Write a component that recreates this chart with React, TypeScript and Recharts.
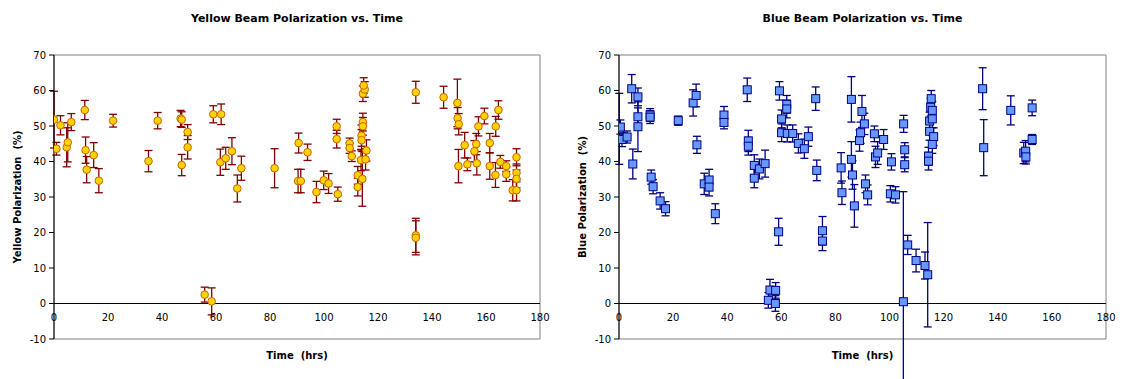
import { ScatterChart, Scatter, XAxis, YAxis, ErrorBar, ReferenceLine, ReferenceArea, Label } from 'recharts';

const FONT = '"DejaVu Sans", Verdana, sans-serif';

// yellow beam: time (hrs), polarization (%), error (+/-)
const yellowTime = [
    0, 0.9, 2.4, 4.7, 5.1, 6.4, 11.4, 11.7, 12.1, 14.7, 16.6, 21.9, 35.0, 38.4, 46.9, 47.3, 47.3, 49.5, 49.5,
    55.8, 58.4, 59.0, 61.9, 61.6, 63.6, 65.9, 67.9, 69.4, 81.7, 90.6, 90.4, 91.4, 93.9, 97.2, 99.9, 101.7,
    105.1, 104.7, 104.7, 109.5, 109.5, 110.3, 112.5, 112.5, 113.7, 113.9, 113.9, 114.4, 114.4, 114.2, 114.4,
    115.1, 114.7, 115.4, 115.7, 134.0, 134.0, 134.0, 144.3, 149.4, 149.5, 149.9, 149.8, 152.1, 153.1, 155.7,
    156.4, 156.6, 157.2, 159.4, 161.4, 161.4, 163.5, 163.6, 164.6, 165.3, 167.5, 167.5, 169.9, 171.3, 171.3,
    171.3, 171.3
];
const yellowPol = [
    51.8, 43.6, 50.2, 44.0, 45.4, 51.1, 54.5, 43.2, 37.7, 41.8, 34.6, 51.5, 40.1, 51.5, 52.1, 51.8, 39.0, 48.3, 44.0,
    2.5, 0.6, 53.3, 53.3, 39.8, 40.9, 42.9, 32.4, 38.1, 38.1, 45.2, 34.5, 34.5, 42.6, 31.4, 34.7, 33.8,
    30.8, 49.9, 46.3, 45.1, 43.8, 41.5, 36.1, 32.8, 40.4, 47.3, 46.0, 51.1, 49.9, 35.1, 59.1,
    60.3, 61.4, 40.6, 43.1, 59.5, 19.2, 18.5, 58.1, 56.5, 52.2, 50.5, 38.7, 44.6, 39.2, 42.9,
    44.9, 39.5, 49.9, 52.8, 45.2, 38.7, 36.2, 49.9, 54.5, 39.9, 38.7, 36.4, 31.9, 41.2, 36.8,
    35.1, 31.9
];
const yellowErr = [
    8, 1.8, 2.7, 5.5, 5.5, 2.4, 2.7, 3.7, 3.7, 3.5, 3.4, 1.8, 3, 2.3, 2.3, 2.2, 3, 2.1, 3.3,
    2.1, 3.8, 2.4, 2.9, 3.7, 3.1, 3.8, 3.8, 3.4, 5.5, 2.8, 3.3, 3.3, 2.3, 3, 2.6, 2.8,
    2, 2, 2.5, 1.5, 1.5, 1.5, 2.5, 2.5, 3, 3, 3, 2.5, 2.5, 7.7, 2.2,
    2.2, 2.2, 3, 3, 3.1, 4.8, 4.8, 3.1, 6.7, 3, 3, 4.7, 3.6, 1.8, 3,
    3, 3.3, 2.7, 2.2, 2.7, 3.7, 3.5, 2.8, 2.6, 1.8, 1.5, 2, 3, 2.4, 2.5,
    2.5, 3
];

// blue beam: time (hrs), polarization (%), error (+/-)
const blueTime = [
    0.1, 0.5, 1.1, 3.0, 4.7, 5.1, 7.0, 7.0, 7.0, 11.5, 11.5, 11.9, 12.6, 15.2, 17.2, 21.9, 27.4, 28.5, 28.8,
    31.5, 33.3, 33.3, 35.6, 38.8, 38.8, 47.4, 47.8, 47.8, 50.0, 50.0, 51.9, 54.0, 55.2, 55.8, 57.9, 57.8,
    59.0, 59.3, 60.1, 60.1, 62.0, 62.0, 62.2, 64.2, 66.3, 68.5, 70.0, 72.7, 73.1, 75.2, 75.2, 82.1, 82.4,
    85.9, 85.9, 86.3, 87.0, 88.9, 89.3, 89.8, 90.7, 91.1, 91.9, 94.4, 94.8, 95.6, 97.8, 100.7, 100.3, 102.2,
    105.2, 105.6, 105.6, 105.1, 106.7, 109.8, 113.1, 114.1, 114.4, 114.4, 114.8, 114.8, 115.2, 115.4, 115.8,
    115.8, 116.3, 115.8, 134.4, 134.8, 144.8, 152.7, 152.7, 149.6, 150.3, 150.4
];
const bluePol = [
    49.2, 49.7, 46.2, 46.9, 60.5, 39.3, 58.2, 52.6, 49.8, 53.1, 52.5, 35.6, 32.9, 28.9, 26.7, 51.5, 56.5, 58.6, 44.7,
    33.7, 34.8, 32.8, 25.3, 53.1, 51.0, 60.2, 45.8, 44.3, 38.9, 35.3, 37.9, 39.4, 0.9, 3.8, 3.7, 0,
    20.2, 59.9, 52.0, 48.1, 56.1, 54.8, 47.9, 47.9, 45.1, 43.6, 47.0, 57.7, 37.5, 20.5, 17.6, 38.2, 31.2,
    57.5, 40.6, 36.2, 27.5, 45.9, 48.1, 54.1, 50.6, 33.7, 30.6, 47.8, 41.3, 42.4, 46.2, 39.9, 30.9, 30.6,
    50.6, 43.3, 39.1, 0.5, 16.5, 12.1, 10.7, 8.1, 41.5, 40.1, 51.4, 48.5, 55.3, 57.7, 54.4,
    52.0, 47.0, 44.8, 60.5, 43.9, 54.4, 55.1, 46.2, 42.4, 42.9, 41.3
];
const blueErr = [
    10, 2, 2, 1.7, 4, 4.2, 2.5, 2.5, 7, 1.8, 1.8, 2, 2, 2.3, 2, 1.3, 3.7, 3.2, 2.4,
    3, 3, 2.5, 2.8, 2.4, 1.8, 3.3, 3, 2.5, 3, 2.7, 2.8, 3.8, 2.2, 3, 2.2, 2.2,
    3.8, 2.6, 2.5, 2.5, 2.5, 2.5, 2.4, 2.4, 2.7, 2.7, 2.7, 3.3, 2.9, 4, 2.7, 4.3, 3.3,
    6.4, 5, 4, 6, 3, 3, 4.5, 3, 2.5, 2.8, 2.2, 3, 3.2, 2.8, 2.3, 2.3, 2.3,
    2.4, 2, 2, 31, 2.7, 3.2, 3.8, 14.7, 2.5, 2.5, 2.5, 2.5, 2.5, 2.3, 2.5,
    2.5, 2.5, 2.5, 5.9, 7.9, 4.1, 2.2, 1.4, 3, 3, 2
];

const xTicks = [0, 20, 40, 60, 80, 100, 120, 140, 160, 180];
const yTicks = [-10, 0, 10, 20, 30, 40, 50, 60, 70];

const CHART_H = 379;
const TOP = 55;
const X_AXIS_H = 40;
const Y_AXIS_W = 54;
const plotH = CHART_H - TOP - X_AXIS_H;
// distance from plot bottom (-10) up to the zero line
const zeroShift = (plotH * 10) / 80;

const toRows = (t: number[], p: number[], e: number[]) => t.map((x, i) => ({ x, y: p[i], err: e[i] }));

const XTick = ({ x, y, payload }: any) => (
    <text x={x} y={y - zeroShift + 14} dy="0.35em" textAnchor="middle" fontSize={10} fontFamily={FONT} fill="#000">
        {payload.value}
    </text>
);

interface PanelProps {
    title: string;
    yLabel: string;
    width: number;
    marginRight: number;
    rows: { x: number; y: number; err: number }[];
    barColor: string;
    shape: (props: any) => any;
}

const Panel = ({ title, yLabel, width, marginRight, rows, barColor, shape }: PanelProps) => {
    const plotCenter = Y_AXIS_W + (width - Y_AXIS_W - marginRight) / 2;
    return (
        <div style={{ position: 'relative', width, height: CHART_H }}>
            <div
                style={{
                    position: 'absolute',
                    top: 11,
                    left: plotCenter - 200,
                    width: 400,
                    textAlign: 'center',
                    fontFamily: FONT,
                    fontWeight: 'bold',
                    fontSize: 11,
                    lineHeight: '16px',
                    color: '#000'
                }}
            >
                {title}
            </div>
            <ScatterChart width={width} height={CHART_H} margin={{ top: TOP, right: marginRight, bottom: 0, left: 0 }}>
                <ReferenceArea x1={0} x2={180} y1={-10} y2={70} fill="none" stroke="#808080" strokeWidth={1} ifOverflow="visible" />
                <XAxis
                    type="number"
                    dataKey="x"
                    domain={[0, 180]}
                    ticks={xTicks}
                    allowDataOverflow
                    height={X_AXIS_H}
                    axisLine={false}
                    tickLine={false}
                    tickSize={0}
                    tickMargin={0}
                    tick={<XTick />}
                >
                    <Label
                        content={({ viewBox }: any) => (
                            <text
                                x={viewBox.x + viewBox.width / 2}
                                y={viewBox.y + 16}
                                dy="0.35em"
                                textAnchor="middle"
                                fontSize={10}
                                fontWeight="bold"
                                fontFamily={FONT}
                                fill="#000"
                                style={{ whiteSpace: 'pre' }}
                            >
                                {'Time  (hrs)'}
                            </text>
                        )}
                    />
                </XAxis>
                <YAxis
                    type="number"
                    dataKey="y"
                    domain={[-10, 70]}
                    ticks={yTicks}
                    allowDataOverflow
                    width={Y_AXIS_W}
                    axisLine={{ stroke: '#000' }}
                    tickLine={{ stroke: '#000' }}
                    tickSize={5}
                    tickMargin={3}
                    tick={{ fontSize: 10, fontFamily: FONT, fill: '#000' }}
                >
                    <Label
                        content={({ viewBox }: any) => {
                            const cy = viewBox.y + viewBox.height / 2;
                            return (
                                <text
                                    x={17}
                                    y={cy}
                                    transform={`rotate(-90 17 ${cy})`}
                                    dy="0.35em"
                                    textAnchor="middle"
                                    fontSize={10}
                                    fontWeight="bold"
                                    fontFamily={FONT}
                                    fill="#000"
                                    style={{ whiteSpace: 'pre' }}
                                >
                                    {yLabel}
                                </text>
                            );
                        }}
                    />
                </YAxis>
                <ReferenceLine y={0} stroke="#000" strokeWidth={1} />
                <Scatter data={rows} dataKey="y" shape={shape} isAnimationActive={false}>
                    <ErrorBar dataKey="err" direction="y" width={4} stroke={barColor} strokeWidth={1.3} isAnimationActive={false} />
                </Scatter>
            </ScatterChart>
        </div>
    );
};

const yellowDot = (props: any) => (
    <circle cx={props.cx} cy={props.cy} r={3.8} fill="#FFD200" stroke="#C86400" strokeWidth={1} />
);

const blueSquare = (props: any) => (
    <rect x={props.cx - 4} y={props.cy - 4} width={8} height={8} fill="#6699FF" stroke="#000080" strokeWidth={1} />
);

export default function App() {
    return (
        <div style={{ position: 'absolute', left: 0, top: 0, width: 1123, height: CHART_H, background: '#fff', display: 'flex' }}>
            <Panel
                title="Yellow Beam Polarization vs. Time"
                yLabel="Yellow Polarization  (%)"
                width={565}
                marginRight={25}
                rows={toRows(yellowTime, yellowPol, yellowErr)}
                barColor="#800000"
                shape={yellowDot}
            />
            <Panel
                title="Blue Beam Polarization vs. Time"
                yLabel="Blue Polarization  (%)"
                width={558}
                marginRight={17}
                rows={toRows(blueTime, bluePol, blueErr)}
                barColor="#000080"
                shape={blueSquare}
            />
        </div>
    );
}
